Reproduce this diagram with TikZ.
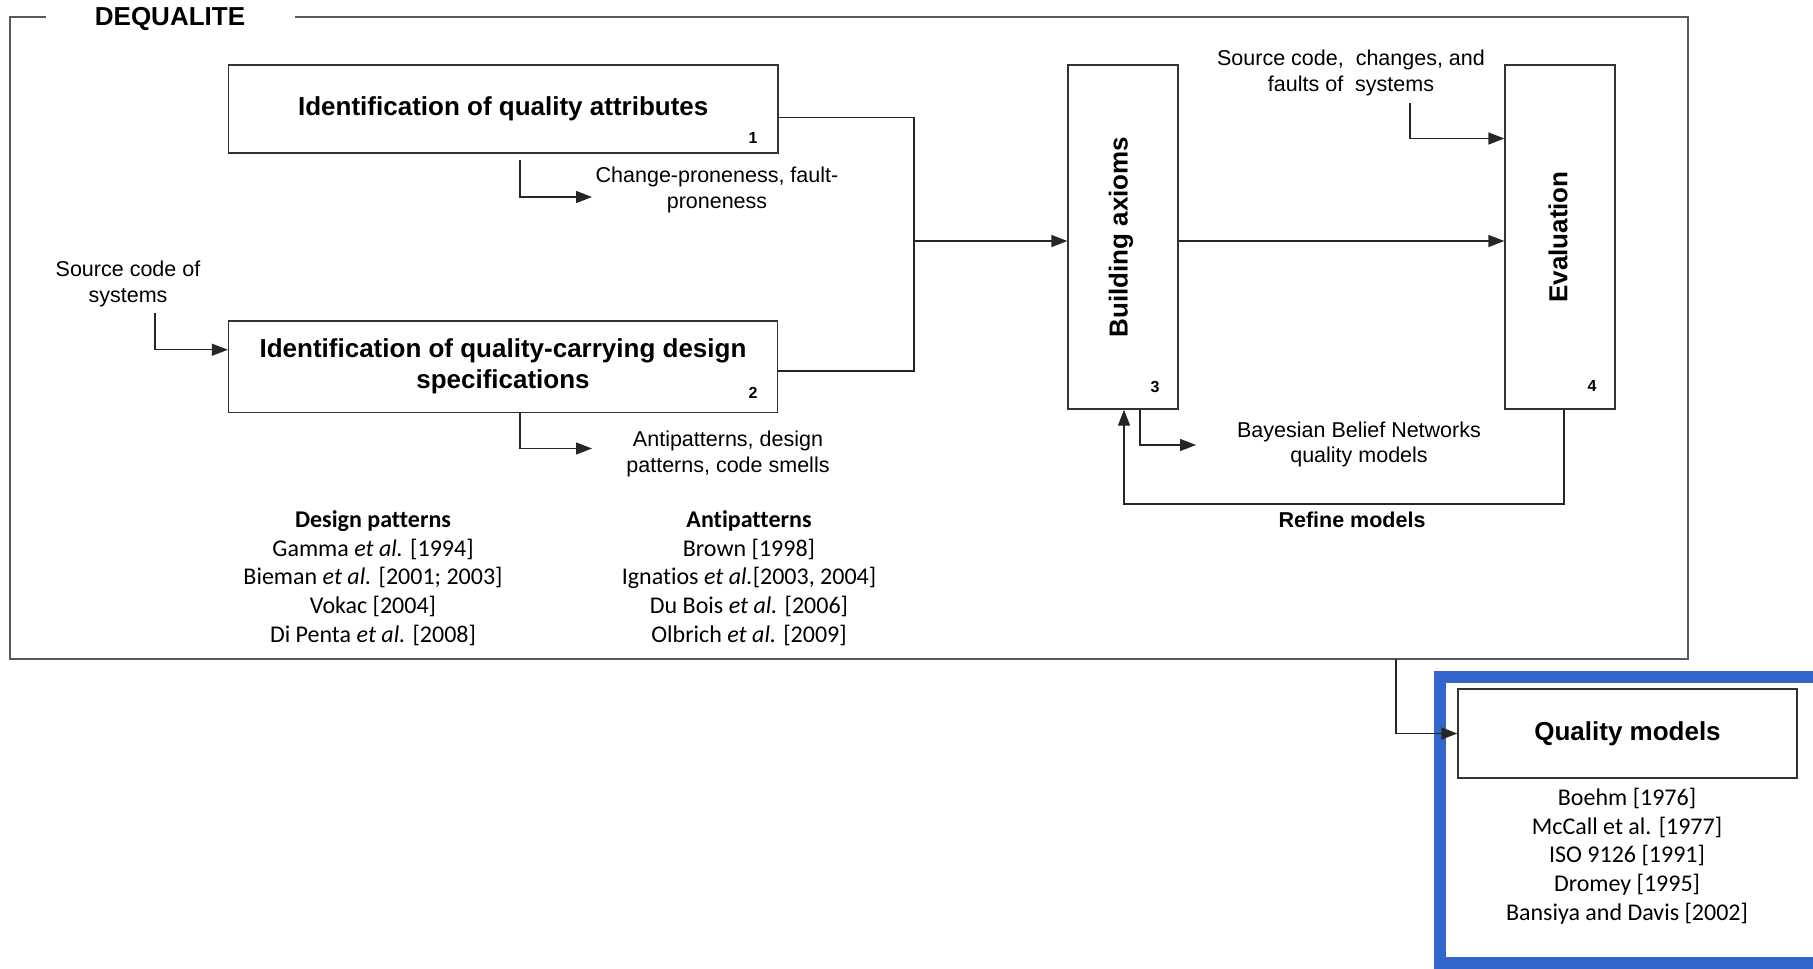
\documentclass[tikz,border=0pt]{standalone}
\usepackage{fontspec}
\setmainfont{Liberation Sans}
\newfontfamily\calibri[Ligatures=NoCommon]{Carlito}
\usetikzlibrary{arrows.meta}
\definecolor{qmblue}{RGB}{51,102,204}
\begin{document}
\begin{tikzpicture}[x=1pt,y=-1pt,
  frameline/.style={draw=black!65,line width=1.3pt},
  steptext/.style={inner sep=0pt,align=center,font=\fontsize{26}{31}\selectfont\bfseries},
  stepbox/.style={steptext,draw=black!80,line width=1.3pt},
  conn/.style={draw=black!85,line width=1.3pt},
  arr/.style={conn,-{Triangle[length=16pt,width=12pt]}},
  num/.style={font=\fontsize{16}{18}\selectfont\bfseries,inner sep=0pt},
  lbl/.style={font=\fontsize{21.5}{25.5}\selectfont,align=center,inner sep=0pt},
  blbl/.style={lbl,font=\fontsize{21.5}{25.5}\selectfont\bfseries},
  refs/.style={font=\calibri\fontsize{24}{28.7}\selectfont,align=center,inner sep=0pt},
]
\useasboundingbox (0,0) rectangle (1813,969);
\clip (0,0) rectangle (1813,969);

% outer DEQUALITE frame with a gap for its title
\draw[frameline] (46,17) -- (10,17) -- (10,659) -- (1688,659) -- (1688,17) -- (295,17);
\node[steptext] (title) at (170,19) {DEQUALITE};

% process steps
\node[stepbox,minimum width=549.5pt,minimum height=88pt] (b1) at (503.25,109)
  {Identification of quality attributes};
\node[stepbox,minimum width=549pt,minimum height=91.5pt] (b2) at (503,366.75)
  {Identification of quality-carrying design\\specifications};
\node[stepbox,minimum width=110pt,minimum height=344pt] (b3) at (1123,237) {};
\node[steptext,rotate=90] (b3t) at (1121,237) {Building axioms};
\node[stepbox,minimum width=110pt,minimum height=344pt] (b4) at (1560,237) {};
\node[steptext,rotate=90] (b4t) at (1558,237) {Evaluation};

\node[num] (n1) at (753,138) {1};
\node[num] (n2) at (753,393) {2};
\node[num] (n3) at (1155,386.5) {3};
\node[num] (n4) at (1592,386) {4};

% inputs and outputs
\node[lbl] (src) at (128,284) {Source code of\\systems};
\node[lbl] (cp) at (717,190) {Change-proneness, fault-\\proneness};
\node[lbl] (ap) at (728,454) {Antipatterns, design\\patterns, code smells};
\node[lbl] (scf) at (1351,73) {Source code,\ \ changes, and\\faults of\ \ systems};
\node[lbl] (bbn) at (1359,444.5) {Bayesian Belief Networks\\quality models};
\node[blbl] (ref) at (1352,520) {Refine models};

% literature
\node[refs] (dp) at (373,578)
  {\textbf{Design patterns}\\Gamma \textit{et al.} [1994]\\Bieman \textit{et al.} [2001; 2003]\\Vokac [2004]\\Di Penta \textit{et al.} [2008]};
\node[refs] (anti) at (749,578)
  {\textbf{Antipatterns}\\Brown [1998]\\Ignatios \textit{et al.}[2003, 2004]\\Du Bois \textit{et al.} [2006]\\Olbrich \textit{et al.} [2009]};

% quality models panel
\node[draw=qmblue,line width=12pt,inner sep=0pt,outer sep=0pt,minimum width=380pt,minimum height=286pt,
  anchor=north west] (qmframe) at (1439.5,677) {};
\node[stepbox,minimum width=339pt,minimum height=89pt] (qm) at (1627.5,733.5) {Quality models};
\node[refs] (qmrefs) at (1627,856)
  {Boehm [1976]\\McCall et al. [1977]\\ISO 9126 [1991]\\Dromey [1995]\\Bansiya and Davis [2002]};

% connector end points
\coordinate (srcfoot) at (155,313);
\coordinate (a1s) at (520,160);
\coordinate (a1e) at (592,197);
\coordinate (a2e) at (592,448.5);
\coordinate (mtop) at (914,117.5);
\coordinate (mbot) at (914,371);
\coordinate (m) at (914,241);
\coordinate (f0) at (1410,103);
\coordinate (gend) at (1196,445);
\coordinate (hr) at (1564,504);
\coordinate (hl) at (1124,504);
\coordinate (fb) at (1396,659);

% connectors
\draw[arr] (srcfoot) |- ([yshift=17pt]b2.west);
\draw[arr] (a1s) |- (a1e);
\draw[arr] (b2.south -| a1s) |- (a2e);
\draw[conn] ([yshift=-8.5pt]b1.east) -- (mtop) -- (mbot) -- (b2.east |- mbot);
\draw[arr] (m) -- (b3.west |- m);
\draw[arr] (b3.east |- m) -- (b4.west |- m);
\draw[arr] (f0) |- ([yshift=98.5pt]b4.west);
\draw[arr] ([xshift=17pt]b3.south) |- (gend);
\draw[arr] (b4.south -| hr) -- (hr) -- (hl) -- (b3.south -| hl);
\draw[arr] (fb) |- (qm.west);
\end{tikzpicture}
\end{document}
